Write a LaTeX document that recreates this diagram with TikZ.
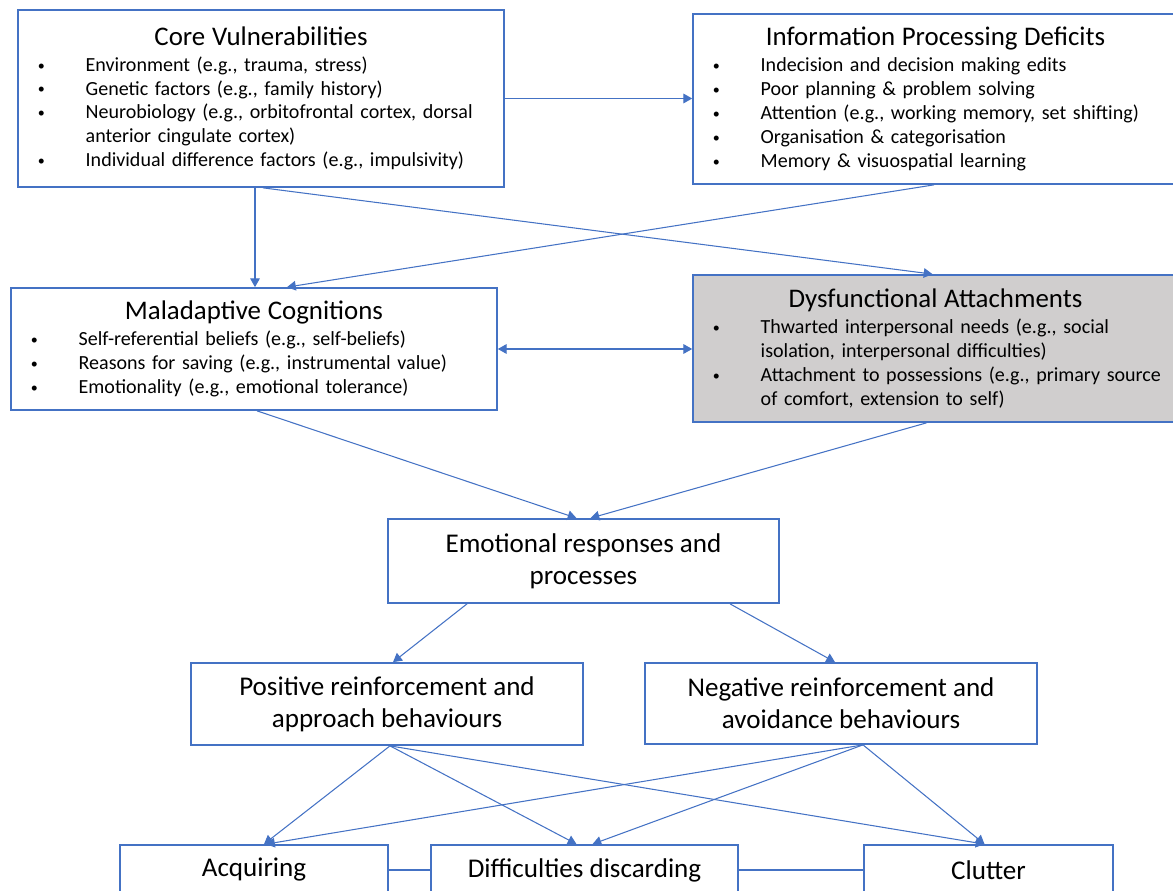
\documentclass[tikz,border=0pt]{standalone}
\usepackage{fontspec}
\setmainfont{Carlito}
\usepackage{tikz}
\usetikzlibrary{arrows.meta}
\usetikzlibrary{calc}
\definecolor{boxblue}{RGB}{68,114,196}
\definecolor{boxgray}{RGB}{208,206,206}
\newcommand{\boxtitle}[1]{{\centering\fontsize{15.3}{18}\selectfont #1\par}\vspace{1pt}}
\newcommand{\bulletitem}[1]{{\leftskip=38.5pt\noindent\llap{\makebox[27.2pt][l]{\raisebox{0.6pt}{\fontsize{8}{8}\selectfont\textbullet}}}#1\par}}

\begin{document}
\begin{tikzpicture}[x=0.02cm,y=0.02cm,
		listbox/.style={draw=boxblue,line width=1pt,fill=white,inner xsep=0pt,inner ysep=0pt,align=left,
			font=\fontsize{11.4}{13.6}\selectfont},
		mainbox/.style={draw=boxblue,line width=1pt,fill=white,inner sep=0pt,align=center,
			font=\fontsize{15.4}{18}\selectfont},
		conn/.style={draw=boxblue,line width=0.6pt,-{Triangle[length=5pt,width=5.5pt]}},
		link/.style={draw=boxblue,line width=0.6pt}]
			\useasboundingbox (0,0) rectangle (1173,890);
			\node [listbox,text width=9.72cm,minimum height=3.54cm] (core) at (261,791.5) {
				\boxtitle{Core Vulnerabilities}
				\bulletitem{Environment (e.g., trauma, stress)}
				\bulletitem{Genetic factors (e.g., family history)}
				\bulletitem{Neurobiology (e.g., orbitofrontal cortex, dorsal\newline anterior cingulate cortex)}
				\bulletitem{Individual difference factors (e.g., impulsivity)}};
			\node [listbox,text width=9.7cm,minimum height=3.4cm] (info) at (935.5,791) {
				\boxtitle{Information Processing Deficits}
				\bulletitem{Indecision and decision making edits}
				\bulletitem{Poor planning \& problem solving}
				\bulletitem{Attention (e.g., working memory, set shifting)}
				\bulletitem{Organisation \& categorisation}
				\bulletitem{Memory \& visuospatial learning}};
			\node [listbox,text width=9.72cm,minimum height=2.44cm] (malad) at (254,541) {
				\boxtitle{Maladaptive Cognitions}
				\bulletitem{Self-referential beliefs (e.g., self-beliefs)}
				\bulletitem{Reasons for saving (e.g., instrumental value)}
				\bulletitem{Emotionality (e.g., emotional tolerance)}};
			\node [listbox,fill=boxgray,text width=9.7cm,minimum height=2.94cm] (dysf) at (935.5,541.5) {
				\boxtitle{Dysfunctional Attachments}
				\bulletitem{Thwarted interpersonal needs (e.g., social\newline isolation, interpersonal difficulties)}
				\bulletitem{Attachment to possessions (e.g., primary source\newline of comfort, extension to self)}};
			\node [mainbox,minimum width=7.82cm,minimum height=1.68cm] (emo) at (583.5,329) {Emotional responses and\\processes};
			\node [mainbox,minimum width=7.84cm,minimum height=1.64cm] (pos) at (387,186) {Positive reinforcement and\\approach behaviours};
			\node [mainbox,minimum width=7.84cm,minimum height=1.62cm] (neg) at (841,186.5) {Negative reinforcement and\\avoidance behaviours};
			\node [mainbox,minimum width=5.36cm,minimum height=1cm] (acq) at (254,20) {Acquiring};
			\node [mainbox,minimum width=6.14cm,minimum height=1cm] (diff) at (584.5,20) {Difficulties discarding};
			\node [mainbox,minimum width=4.98cm,minimum height=1cm] (clutter) at (988.5,20) {Clutter};
			% side links
			\draw [conn] (core.east) -- (core.east -| info.west);
			\draw [conn,{Triangle[length=5pt,width=5.5pt]}-{Triangle[length=5pt,width=5.5pt]}] (malad.east) -- (malad.east -| dysf.west);
			\draw [link] (acq.east) -- (diff.west);
			\draw [link] (diff.east) -- (clutter.west);
			% downward arrows
			\foreach \from/\fx/\to/\tx in {core/-6/malad/1, core/2/dysf/-3, info/-1.5/malad/33,
				malad/3/emo/-7, dysf/-9/emo/7, emo/-116.5/pos/6, emo/146.5/neg/-6,
				pos/3/acq/10, pos/3/diff/-8, pos/3/clutter/-4,
				neg/22/acq/12, neg/22/diff/8, neg/22/clutter/-4}
				\draw [conn] ($(\from.south)+(\fx,0)$) -- ($(\to.north)+(\tx,0)$);
		\end{tikzpicture}
\end{document}
